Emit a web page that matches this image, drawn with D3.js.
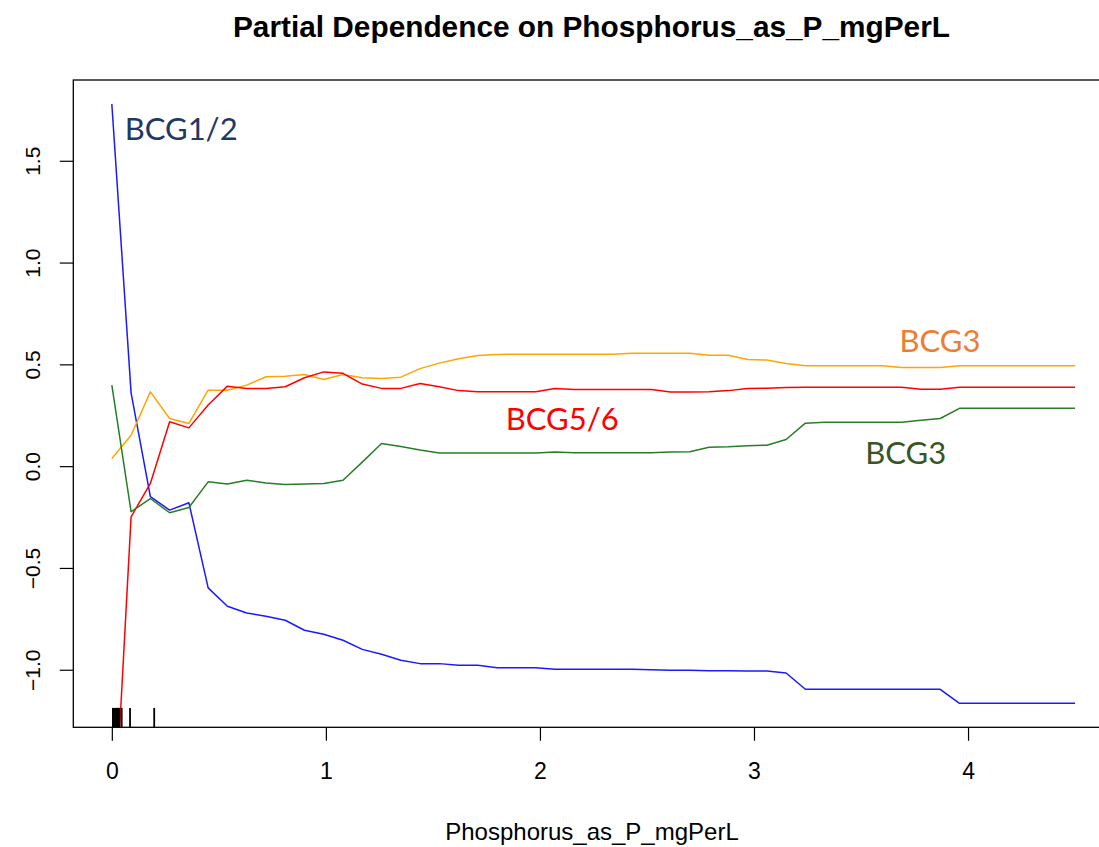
<!DOCTYPE html>
<html lang="en">
<head>
<script src='https://d3js.org/d3.v7.min.js'></script>
<title>Partial Dependence on Phosphorus_as_P_mgPerL</title>
<meta charset="UTF-8">
<style>
body{
	margin: 0;
	background-color: #ffffff;
}
svg{
	display: block;
}
.lbl{
	font-family: "Liberation Sans", Arial, sans-serif;
	fill: #000000;
}
.note{
	font-family: Lato, "Noto Sans", sans-serif;
}
</style>
</head>
<body>

<svg></svg>

<script>
// x grid used by partialPlot (51 points over 0..4.5)
var xVals = [0, 0.09, 0.18, 0.27, 0.36, 0.45, 0.54, 0.63, 0.72, 0.81,
	0.9, 0.99, 1.08, 1.17, 1.26, 1.35, 1.44, 1.53, 1.62, 1.71,
	1.8, 1.89, 1.98, 2.07, 2.16, 2.25, 2.34, 2.43, 2.52, 2.61,
	2.7, 2.79, 2.88, 2.97, 3.06, 3.15, 3.24, 3.33, 3.42, 3.51,
	3.6, 3.69, 3.78, 3.87, 3.96, 4.05, 4.14, 4.23, 4.32, 4.41,
	4.5];

// BCG1/2 (blue)
var bcg12 = [1.779, 0.36, -0.15, -0.216, -0.18, -0.598, -0.688, -0.721, -0.737, -0.757,
	-0.806, -0.826, -0.855, -0.90, -0.924, -0.953, -0.97, -0.97, -0.978, -0.978,
	-0.99, -0.99, -0.99, -0.998, -0.998, -0.998, -0.998, -0.998, -1.0, -1.003,
	-1.003, -1.005, -1.005, -1.006, -1.006, -1.016, -1.096, -1.096, -1.096, -1.096,
	-1.096, -1.096, -1.096, -1.096, -1.165, -1.165, -1.165, -1.165, -1.165, -1.165,
	-1.165];

// BCG3 (orange)
var bcg3a = [0.038, 0.152, 0.365, 0.234, 0.21, 0.373, 0.373, 0.398, 0.439, 0.442,
	0.45, 0.426, 0.45, 0.434, 0.43, 0.437, 0.479, 0.506, 0.528, 0.543,
	0.548, 0.55, 0.55, 0.55, 0.55, 0.55, 0.55, 0.555, 0.555, 0.555,
	0.554, 0.545, 0.545, 0.524, 0.521, 0.504, 0.493, 0.493, 0.493, 0.493,
	0.493, 0.485, 0.485, 0.485, 0.493, 0.493, 0.493, 0.493, 0.493, 0.493,
	0.493];

// BCG5/6 (red)
var bcg56 = [-2.0, -0.249, -0.085, 0.218, 0.188, 0.30, 0.393, 0.382, 0.382, 0.39,
	0.434, 0.463, 0.456, 0.403, 0.382, 0.382, 0.406, 0.39, 0.371, 0.365,
	0.366, 0.366, 0.366, 0.381, 0.376, 0.376, 0.376, 0.376, 0.376, 0.364,
	0.364, 0.365, 0.371, 0.382, 0.383, 0.386, 0.387, 0.387, 0.387, 0.387,
	0.387, 0.387, 0.378, 0.378, 0.387, 0.387, 0.387, 0.387, 0.387, 0.387,
	0.387];

// BCG3 (green)
var bcg3b = [0.398, -0.224, -0.159, -0.229, -0.203, -0.077, -0.088, -0.069, -0.083, -0.09,
	-0.088, -0.085, -0.069, 0.02, 0.111, 0.096, 0.079, 0.065, 0.065, 0.065,
	0.065, 0.065, 0.065, 0.07, 0.066, 0.066, 0.066, 0.066, 0.066, 0.069,
	0.071, 0.093, 0.095, 0.1, 0.103, 0.131, 0.211, 0.216, 0.216, 0.216,
	0.216, 0.216, 0.226, 0.234, 0.284, 0.284, 0.284, 0.284, 0.284, 0.284,
	0.284];

// rug = deciles of the predictor
var rugVals = [0.005, 0.01, 0.015, 0.02, 0.025, 0.03, 0.035, 0.046, 0.085, 0.198];

var xTicks = [0, 1, 2, 3, 4];
var yTicks = [-1.0, -0.5, 0.0, 0.5, 1.0, 1.5];

var series = [
	{vals: bcg12, color: "#1a1aff"},
	{vals: bcg3a, color: "#ffa500"},
	{vals: bcg56, color: "#ff0000"},
	{vals: bcg3b, color: "#267f26"}
];

var notes = [
	{text: "BCG1/2", x: 0.06, y: 1.6, color: "#1f3864"},
	{text: "BCG3", x: 3.68, y: 0.56, color: "#ed7d31"},
	{text: "BCG5/6", x: 1.84, y: 0.177, color: "#ff0000"},
	{text: "BCG3", x: 3.52, y: 0.01, color: "#375623"}
];

var W = 1099, H = 847;
var box = {left: 73.3, top: 80, right: 1113.6, bottom: 727.3};

// R style 4% padding, y range comes from the first (blue) curve
var xMin = d3.min(xVals), xMax = d3.max(xVals);
var yMin = d3.min(bcg12), yMax = d3.max(bcg12);
var xPad = (xMax - xMin) * 0.04, yPad = (yMax - yMin) * 0.04;

var x = d3.scaleLinear().domain([xMin - xPad, xMax + xPad]).range([box.left, box.right]);
var y = d3.scaleLinear().domain([yMin - yPad, yMax + yPad]).range([box.bottom, box.top]);

var svg = d3.select("svg")
	.attr("width", W)
	.attr("height", H);

svg.append("rect")
	.attr("width", W)
	.attr("height", H)
	.attr("fill", "#ffffff");

svg.append("clipPath")
	.attr("id", "plotclip")
	.append("rect")
	.attr("x", box.left)
	.attr("y", box.top)
	.attr("width", box.right - box.left)
	.attr("height", box.bottom - box.top);

// title
svg.append("text")
	.attr("class", "lbl")
	.attr("x", 591.5)
	.attr("y", 37)
	.attr("text-anchor", "middle")
	.style("font-size", "29.8px")
	.style("font-weight", "bold")
	.text("Partial Dependence on Phosphorus_as_P_mgPerL");

// curves
var line = d3.line()
	.x(function(d, i) { return x(xVals[i]); })
	.y(function(d) { return y(d); });

var plot = svg.append("g").attr("clip-path", "url(#plotclip)");

series.forEach(function(s) {
	plot.append("path")
		.datum(s.vals)
		.attr("fill", "none")
		.attr("stroke", s.color)
		.attr("stroke-width", 1.5)
		.attr("stroke-linejoin", "round")
		.attr("d", line);
});

// rug
svg.append("g").selectAll("line")
	.data(rugVals)
	.join("line")
	.attr("x1", function(d) { return x(d); })
	.attr("x2", function(d) { return x(d); })
	.attr("y1", box.bottom)
	.attr("y2", box.bottom - (box.bottom - box.top) * 0.03)
	.attr("stroke", "#000")
	.attr("stroke-width", 1.8);

// axes
var xAxis = svg.append("g")
	.attr("transform", "translate(0," + box.bottom + ")")
	.call(d3.axisBottom(x).tickValues(xTicks).tickSize(13.5).tickPadding(9).tickFormat(d3.format("d")));

var yAxis = svg.append("g")
	.attr("transform", "translate(" + box.left + ",0)")
	.call(d3.axisLeft(y).tickValues(yTicks).tickSize(13.5).tickFormat(d3.format(".1f")));

xAxis.select(".domain").remove();
yAxis.select(".domain").remove();
xAxis.selectAll("line").attr("stroke", "#000").attr("stroke-width", 1.2);
yAxis.selectAll("line").attr("stroke", "#000").attr("stroke-width", 1.2);

xAxis.selectAll("text")
	.attr("class", "lbl")
	.attr("dy", null)
	.attr("y", 52)
	.style("font-size", "23px");

yAxis.selectAll("text")
	.attr("class", "lbl")
	.attr("x", null)
	.attr("dy", null)
	.attr("text-anchor", "middle")
	.attr("transform", "translate(-33.5,0) rotate(-90)")
	.style("font-size", "21px");

// plot frame
svg.append("rect")
	.attr("x", box.left)
	.attr("y", box.top)
	.attr("width", box.right - box.left)
	.attr("height", box.bottom - box.top)
	.attr("fill", "none")
	.attr("stroke", "#000")
	.attr("stroke-width", 1.3);

// x label
svg.append("text")
	.attr("class", "lbl")
	.attr("x", 592)
	.attr("y", 840)
	.attr("text-anchor", "middle")
	.style("font-size", "24px")
	.text("Phosphorus_as_P_mgPerL");

// class labels
svg.append("g").selectAll("text")
	.data(notes)
	.join("text")
	.attr("class", "note")
	.attr("x", function(d) { return x(d.x); })
	.attr("y", function(d) { return y(d.y); })
	.attr("fill", function(d) { return d.color; })
	.style("font-size", "31px")
	.text(function(d) { return d.text; });
</script>

</body>
</html>
